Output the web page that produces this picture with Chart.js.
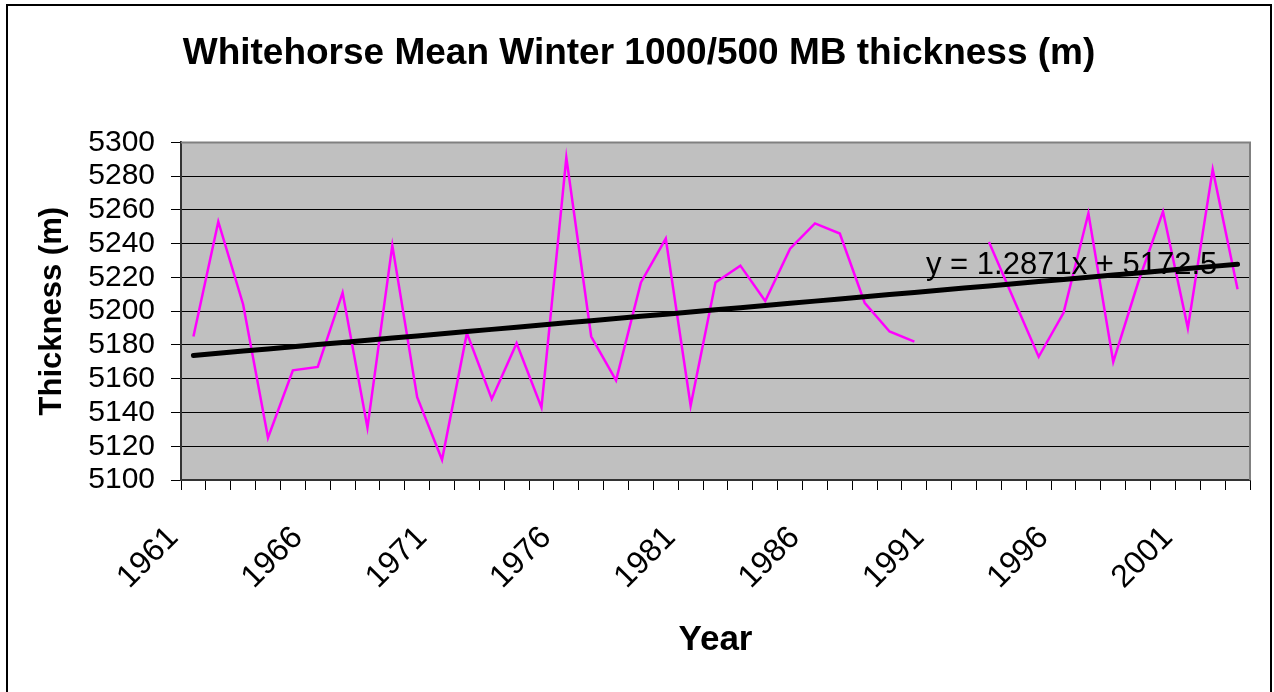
<!DOCTYPE html>
<html lang="en">
  <head>
    <meta charset="UTF-8" />
    <title>Whitehorse Mean Winter 1000/500 MB thickness</title>
    <script src="https://cdn.jsdelivr.net/npm/chart.js"></script>
    <style>
      body {
        margin: 0;
        background: #fff;
      }
      /* marco exterior del gráfico */
      #frame {
        position: absolute;
        left: 6px;
        top: 4px;
        width: 1262px;
        height: 700px;
        border: 2px solid #000;
      }
      #chartContainer {
        position: absolute;
        left: 0;
        top: 0;
        width: 1274px;
        height: 692px;
      }
    </style>
  </head>

  <body>
    <div id="frame"></div>
    <div id="chartContainer">
      <canvas id="thicknessChart"></canvas>
    </div>

    <script>
      // Años de invierno (1991 y 1992 sin datos)
      const years = [
        "1961", "1962", "1963", "1964", "1965", "1966", "1967", "1968", "1969", "1970",
        "1971", "1972", "1973", "1974", "1975", "1976", "1977", "1978", "1979", "1980",
        "1981", "1982", "1983", "1984", "1985", "1986", "1987", "1988", "1989", "1990",
        "1991", "1992", "1993", "1994", "1995", "1996", "1997", "1998", "1999", "2000",
        "2001", "2002", "2003"
      ];

      // Espesor medio 1000/500 mb (m)
      const thickness = [
        5185, 5253, 5204, 5125, 5165, 5167, 5211, 5131, 5239, 5149,
        5112, 5187, 5148, 5181, 5143, 5291, 5185, 5159, 5217, 5243,
        5144, 5217, 5227, 5206, 5237, 5252, 5246, 5205, 5188, 5182,
        null, null, 5241, 5207, 5173, 5199, 5258, 5170, 5217, 5259,
        5190, 5284, 5213
      ];

      // Línea de tendencia: y = 1.2871x + 5172.5 (x = 1 para el primer año)
      const trendSlope = 1.2871;
      const trendIntercept = 5172.5;
      const trend = years.map((y, i) => trendSlope * (i + 1) + trendIntercept);

      const yTicks = { min: 5100, max: 5300, step: 20 };

      const FONT = '"Liberation Sans", Arial, Helvetica, sans-serif';

      // Fondo gris del área de trazado, marco y ecuación de la tendencia
      const plotArea = {
        id: "plotArea",
        beforeDraw(chart) {
          const { ctx, chartArea: a } = chart;
          ctx.save();
          ctx.fillStyle = "#C0C0C0";
          ctx.fillRect(a.left, a.top, a.right - a.left, a.bottom - a.top);
          ctx.restore();
        },
        beforeDatasetsDraw(chart) {
          const { ctx, chartArea: a } = chart;
          ctx.save();
          ctx.strokeStyle = "#808080";
          ctx.lineWidth = 2;
          ctx.beginPath();
          ctx.moveTo(a.left, a.top);
          ctx.lineTo(a.right, a.top);
          ctx.lineTo(a.right, a.bottom);
          ctx.stroke();
          ctx.restore();
        },
        afterDatasetsDraw(chart) {
          const { ctx, chartArea: a } = chart;
          ctx.save();
          ctx.fillStyle = "#000";
          ctx.font = "31px " + FONT;
          ctx.textAlign = "left";
          ctx.textBaseline = "alphabetic";
          const eq = "y = " + trendSlope + "x + " + trendIntercept;
          ctx.fillText(eq, a.left + 745, a.top + 132);
          ctx.restore();
        }
      };

      const ctx = document.getElementById("thicknessChart").getContext("2d");
      const thicknessChart = new Chart(ctx, {
        type: "line",
        data: {
          labels: years,
          datasets: [
            {
              label: "Linear",
              data: trend,
              borderColor: "#000",
              borderWidth: 5,
              borderCapStyle: "round",
              pointRadius: 0,
              tension: 0,
              order: 0,
            },
            {
              label: "Thickness",
              data: thickness,
              borderColor: "#FF00FF",
              borderWidth: 2.5,
              pointRadius: 0,
              spanGaps: false,
              tension: 0,
              order: 1,
            },
          ],
        },
        options: {
          responsive: true,
          maintainAspectRatio: false,
          animation: false,
          layout: {
            padding: { left: 28, right: 24, top: 0, bottom: 0 },
          },
          plugins: {
            legend: { display: false },
            tooltip: { enabled: false },
            title: {
              display: true,
              text: "Whitehorse Mean Winter 1000/500 MB thickness (m)",
              color: "#000",
              font: { family: FONT, size: 37, weight: "bold" },
              padding: { top: 32, bottom: 66 },
            },
          },
          scales: {
            x: {
              offset: true,
              grid: {
                display: true,
                offset: true,
                drawOnChartArea: false,
                drawTicks: true,
                tickLength: 10,
                color: "#000",
                tickColor: "#000",
              },
              border: { display: true, color: "#333", width: 2 },
              ticks: {
                autoSkip: false,
                minRotation: 45,
                maxRotation: 45,
                padding: 29,
                labelOffset: -20,
                color: "#000",
                font: { family: FONT, size: 32 },
                callback: function (value, index) {
                  return index % 5 === 0 ? this.getLabelForValue(value) : "";
                },
              },
              title: {
                display: true,
                text: "Year",
                color: "#000",
                font: { family: FONT, size: 35, weight: "bold" },
                padding: { top: 0, bottom: 31 },
              },
              afterFit(scale) {
                scale.height = 212;
                scale.paddingRight = 0;
              },
            },
            y: {
              min: yTicks.min,
              max: yTicks.max,
              grid: {
                color: (c) => (c.tick && c.tick.value === yTicks.max ? "#808080" : "#000"),
                lineWidth: 1,
                tickLength: 10,
                tickColor: "#000",
              },
              border: { display: true, color: "#333", width: 2 },
              ticks: {
                stepSize: yTicks.step,
                autoSkip: false,
                padding: 16,
                color: "#000",
                font: { family: FONT, size: 30 },
                callback: (value) => String(value),
              },
              title: {
                display: true,
                text: "Thickness (m)",
                color: "#000",
                font: { family: FONT, size: 31, weight: "bold" },
                padding: { top: 6, bottom: 0 },
              },
              afterFit(scale) {
                scale.width = 153;
              },
            },
          },
        },
        plugins: [plotArea],
      });
    </script>
  </body>
</html>
